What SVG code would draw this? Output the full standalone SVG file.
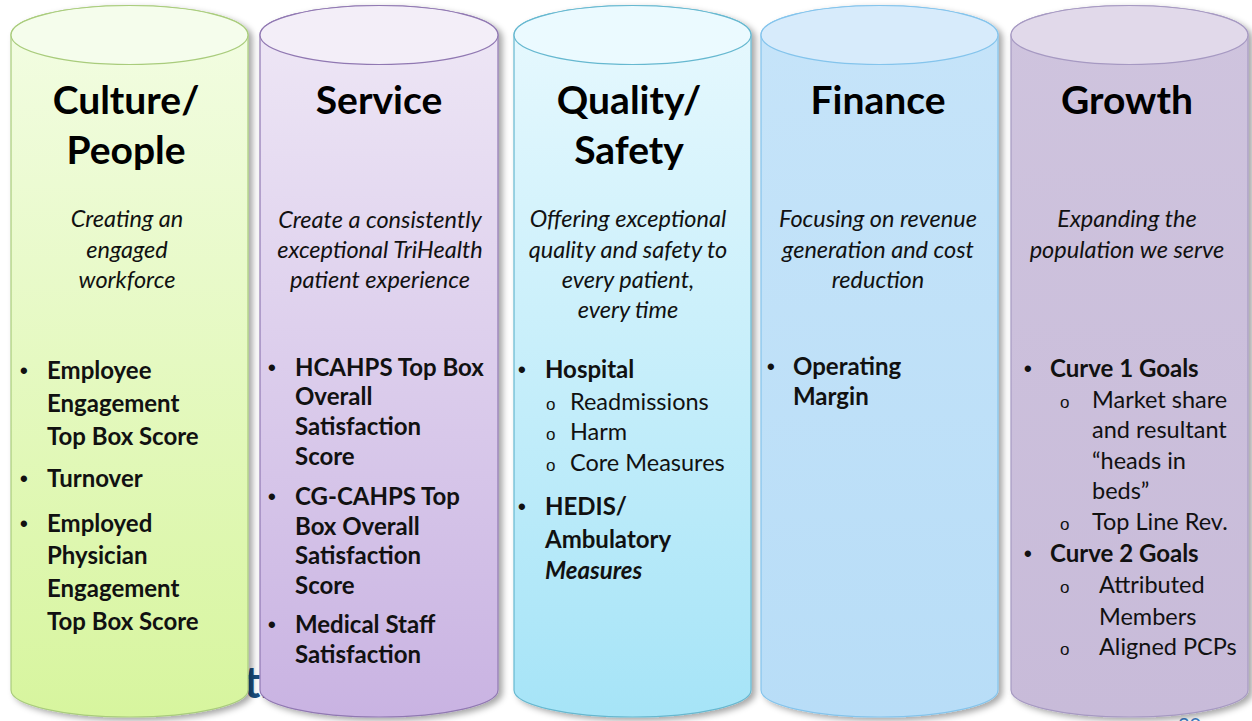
<svg xmlns="http://www.w3.org/2000/svg" width="1252" height="721" viewBox="0 0 1252 721">
<style>
.t{font-family:Lato,"Open Sans","Liberation Sans",sans-serif;font-weight:700;font-size:39px;fill:#000;text-anchor:middle}
.s{font-family:Lato,"Open Sans","Liberation Sans",sans-serif;font-style:italic;font-size:23.5px;fill:#111;text-anchor:middle}
.b{font-family:Lato,"Open Sans","Liberation Sans",sans-serif;font-weight:700;font-size:24px;fill:#111}
.r{font-family:Lato,"Open Sans","Liberation Sans",sans-serif;font-size:23.5px;fill:#111}
.d{font-family:"Liberation Sans",sans-serif;font-weight:700;font-size:22px;fill:#111}
.o{font-family:"Liberation Sans",sans-serif;font-size:17px;fill:#111}
.bg{font-family:Lato,"Liberation Sans",sans-serif;font-weight:700;font-size:44px;fill:#1b4f80}
</style>
<defs>
<filter id="sh" x="-10%" y="-5%" width="125%" height="115%"><feDropShadow dx="4" dy="3" stdDeviation="3" flood-color="#000" flood-opacity="0.35"/></filter>
<linearGradient id="g1" x1="0" y1="0" x2="0" y2="1"><stop offset="0" stop-color="#f3fde4"/><stop offset="1" stop-color="#d7f59e"/></linearGradient>
<linearGradient id="g2" x1="0" y1="0" x2="0" y2="1"><stop offset="0" stop-color="#efe8f6"/><stop offset="1" stop-color="#c9b3e2"/></linearGradient>
<linearGradient id="g3" x1="0" y1="0" x2="0" y2="1"><stop offset="0" stop-color="#e8f9fe"/><stop offset="1" stop-color="#a6e4f7"/></linearGradient>
<linearGradient id="g4" x1="0" y1="0" x2="0" y2="1"><stop offset="0" stop-color="#c6e4f9"/><stop offset="1" stop-color="#b8ddf7"/></linearGradient>
<linearGradient id="g5" x1="0" y1="0" x2="0" y2="1"><stop offset="0" stop-color="#cfc4de"/><stop offset="1" stop-color="#c8bbd9"/></linearGradient>
</defs>
<rect width="1252" height="721" fill="#fff"/>
<text class="bg" x="244" y="698">th</text>
<text x="1178" y="732" font-family="Lato,'Liberation Sans',sans-serif" font-size="20" fill="#3b7dc6">20</text>

<g id="culture">
<path d="M11,35 A118.5,29.5 0 0 1 248,35 L248,690 A118.5,27 0 0 1 11,690 Z" fill="url(#g1)" stroke="#a9cc7c" stroke-width="1.2" filter="url(#sh)"/>
<ellipse cx="129.5" cy="35" rx="118.5" ry="29.5" fill="#f5fdec" stroke="#a9cc7c" stroke-width="1.2"/>
<text class="t" x="126" y="114">Culture/</text>
<text class="t" x="126" y="164">People</text>
<text class="s" x="127" y="227">Creating an</text>
<text class="s" x="127" y="258">engaged</text>
<text class="s" x="127" y="288">workforce</text>
<text class="d" x="20" y="378">•</text><text class="b" x="47" y="379">Employee</text>
<text class="b" x="47" y="412">Engagement</text>
<text class="b" x="47" y="445">Top Box Score</text>
<text class="d" x="20" y="486">•</text><text class="b" x="47" y="487">Turnover</text>
<text class="d" x="20" y="531">•</text><text class="b" x="47" y="532">Employed</text>
<text class="b" x="47" y="564">Physician</text>
<text class="b" x="47" y="597">Engagement</text>
<text class="b" x="47" y="630">Top Box Score</text>
</g>

<g id="service">
<path d="M260,35 A119,29.5 0 0 1 498,35 L498,690 A119,27 0 0 1 260,690 Z" fill="url(#g2)" stroke="#9078b2" stroke-width="1.2" filter="url(#sh)"/>
<ellipse cx="379" cy="35" rx="119" ry="29.5" fill="#f3eef8" stroke="#9078b2" stroke-width="1.2"/>
<text class="t" x="379" y="114">Service</text>
<text class="s" x="380" y="228">Create a consistently</text>
<text class="s" x="380" y="258">exceptional TriHealth</text>
<text class="s" x="380" y="288">patient experience</text>
<text class="d" x="268" y="375">•</text><text class="b" x="295" y="376">HCAHPS Top Box</text>
<text class="b" x="295" y="405">Overall</text>
<text class="b" x="295" y="435">Satisfaction</text>
<text class="b" x="295" y="465">Score</text>
<text class="d" x="268" y="504">•</text><text class="b" x="295" y="505">CG-CAHPS Top</text>
<text class="b" x="295" y="535">Box Overall</text>
<text class="b" x="295" y="564">Satisfaction</text>
<text class="b" x="295" y="594">Score</text>
<text class="d" x="268" y="632">•</text><text class="b" x="295" y="633">Medical Staff</text>
<text class="b" x="295" y="663">Satisfaction</text>
</g>

<g id="quality">
<path d="M514,35 A118.5,29.5 0 0 1 751,35 L751,690 A118.5,27 0 0 1 514,690 Z" fill="url(#g3)" stroke="#66b8d0" stroke-width="1.2" filter="url(#sh)"/>
<ellipse cx="632.5" cy="35" rx="118.5" ry="29.5" fill="#ebfaff" stroke="#66b8d0" stroke-width="1.2"/>
<text class="t" x="629" y="114">Quality/</text>
<text class="t" x="629" y="164">Safety</text>
<text class="s" x="628" y="227">Offering exceptional</text>
<text class="s" x="628" y="258">quality and safety to</text>
<text class="s" x="628" y="288">every patient,</text>
<text class="s" x="628" y="318">every time</text>
<text class="d" x="518" y="377">•</text><text class="b" x="545" y="378">Hospital</text>
<text class="o" x="546" y="410">o</text><text class="r" x="570" y="410">Readmissions</text>
<text class="o" x="546" y="440">o</text><text class="r" x="570" y="440">Harm</text>
<text class="o" x="546" y="471">o</text><text class="r" x="570" y="471">Core Measures</text>
<text class="d" x="518" y="514">•</text><text class="b" x="545" y="515">HEDIS/</text>
<text class="b" x="545" y="548">Ambulatory</text>
<text class="b" x="545" y="579" font-style="italic">Measures</text>
</g>

<g id="finance">
<path d="M761,35 A118.5,29.5 0 0 1 998,35 L998,690 A118.5,27 0 0 1 761,690 Z" fill="url(#g4)" stroke="#84c4ec" stroke-width="1.2" filter="url(#sh)"/>
<ellipse cx="879.5" cy="35" rx="118.5" ry="29.5" fill="#d7ebfb" stroke="#84c4ec" stroke-width="1.2"/>
<text class="t" x="878" y="114">Finance</text>
<text class="s" x="878" y="227">Focusing on revenue</text>
<text class="s" x="878" y="258">generation and cost</text>
<text class="s" x="878" y="288">reduction</text>
<text class="d" x="767" y="374">•</text><text class="b" x="793" y="375">Operating</text>
<text class="b" x="793" y="405">Margin</text>
</g>

<g id="growth">
<path d="M1011,35 A118.5,29.5 0 0 1 1248,35 L1248,690 A118.5,27 0 0 1 1011,690 Z" fill="url(#g5)" stroke="#a699c2" stroke-width="1.2" filter="url(#sh)"/>
<ellipse cx="1129.5" cy="35" rx="118.5" ry="29.5" fill="#e1d9ea" stroke="#a699c2" stroke-width="1.2"/>
<text class="t" x="1127" y="114">Growth</text>
<text class="s" x="1127" y="227">Expanding the</text>
<text class="s" x="1127" y="258">population we serve</text>
<text class="d" x="1024" y="376">•</text><text class="b" x="1050" y="377">Curve 1 Goals</text>
<text class="o" x="1060" y="408">o</text><text class="r" x="1092" y="408">Market share</text>
<text class="r" x="1092" y="438">and resultant</text>
<text class="r" x="1092" y="469">“heads in</text>
<text class="r" x="1092" y="499">beds”</text>
<text class="o" x="1060" y="530">o</text><text class="r" x="1092" y="530">Top Line Rev.</text>
<text class="d" x="1024" y="561">•</text><text class="b" x="1050" y="562">Curve 2 Goals</text>
<text class="o" x="1060" y="593">o</text><text class="r" x="1099" y="593">Attributed</text>
<text class="r" x="1099" y="625">Members</text>
<text class="o" x="1060" y="655">o</text><text class="r" x="1099" y="655">Aligned PCPs</text>
</g>
</svg>
